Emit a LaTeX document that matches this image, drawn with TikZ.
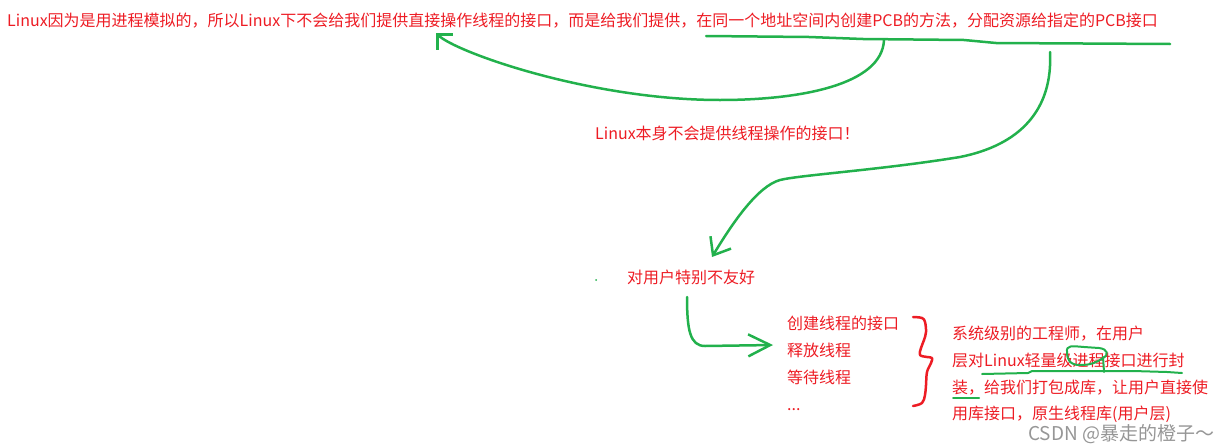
\documentclass[tikz,border=0pt]{standalone}
\usepackage{fontspec}
\setmainfont{Noto Sans CJK SC}
\usetikzlibrary{arrows.meta}
\definecolor{pRed}{RGB}{237,28,36}
\definecolor{pGreen}{RGB}{34,177,76}
\definecolor{pGray}{RGB}{150,150,150}

\begin{document}
\begin{tikzpicture}[
	x=1pt, y=-1pt,
	txt/.style={
		anchor=base west, inner sep=0pt, text=pRed,
		font=\fontsize{16}{20}\selectfont
	},
	ink/.style={draw=pGreen, line width=2.5pt, line cap=round, line join=round},
	inkthin/.style={ink, line width=2pt},
	curly/.style={draw=pRed, line width=2.5pt, line cap=round, line join=round}
	]
	\useasboundingbox (0,0) rectangle (1230,447);

	\node[txt] (top) at (7,26) {Linux因为是用进程模拟的，所以Linux下不会给我们提供直接操作线程的接口，而是给我们提供，在同一个地址空间内创建PCB的方法，分配资源给指定的PCB接口};
	\node[txt] (self) at (595,139) {Linux本身不会提供线程操作的接口！};
	\node[txt] (user) at (627,283) {对用户特别不友好};

	\foreach \i/\y/\t in {1/329/创建线程的接口, 2/356/释放线程, 3/383/等待线程, 4/410/{...}}
	\node[txt] (op\i) at (787,\y) {\t};

	\foreach \i/\y/\t in {1/339/系统级别的工程师，在用户, 2/366/层对Linux轻量级进程接口进行封, 3/393/装，给我们打包成库，让用户直接使, 4/419/用库接口，原生线程库(用户层)}
	\node[txt] (lib\i) at (952,\y) {\t};

	\node[txt, text=pGray, font=\fontsize{19}{20}\selectfont] (wm) at (1028,440) {CSDN @暴走的橙子～};

	\coordinate (barW) at (706,36);
	\coordinate (barE) at (1170,44);
	\coordinate (fromA) at (884,40);
	\coordinate (tipA) at (436,33);
	\coordinate (fromB) at (1050,52);
	\coordinate (tipB) at (712,257);
	\coordinate (fromC) at (687,297);
	\coordinate (tipC) at (773,345);

	\draw[ink] (barW) -- (809,37) -- (863,39) -- (964,40) -- (996,43) -- (barE);
	\draw[ink, -{Straight Barb[length=11pt,width=22pt]}] (fromA) .. controls (882,85) and (800,100) .. (720,100) .. controls (590,100) and (455,52) .. (tipA);
	\draw[ink, -{Straight Barb[length=15pt,width=24pt]}] (fromB) .. controls (1053,110) and (1020,145) .. (960,157) .. controls (880,170) and (800,175) .. (780,180) .. controls (758,186) and (733,222) .. (tipB);
	\draw[ink, -{Straight Barb[length=22pt,width=22pt]}] (fromC) .. controls (687,330) and (690,346) .. (705,346) -- (tipC);
	\fill[pGreen] (596,280) circle[radius=1pt];

	\draw[curly] plot[smooth, tension=0.6] coordinates {(913,317) (922,318) (925,322) (926,332) (924,340) (921,348) (920,355) (927,357) (932,358) (931,363) (927,372) (926,385) (925,395) (922,403) (913,406)};

	\draw[inkthin] (982,374) -- (1028,373) -- (1032,371) -- (1133,371) -- (1167,372) -- (1182,373);
	\draw[inkthin] (953,398) -- (979,398);
	\draw[inkthin] (1067,352) .. controls (1066,345) and (1072,346) .. (1084,347) -- (1099,348) .. controls (1108,349) and (1109,355) .. (1103,358) .. controls (1097,362) and (1092,365) .. (1080,365) .. controls (1070,365) and (1067,360) .. (1067,352);
	\draw[inkthin] (1103,357) -- (1104,372);
\end{tikzpicture}
\end{document}
